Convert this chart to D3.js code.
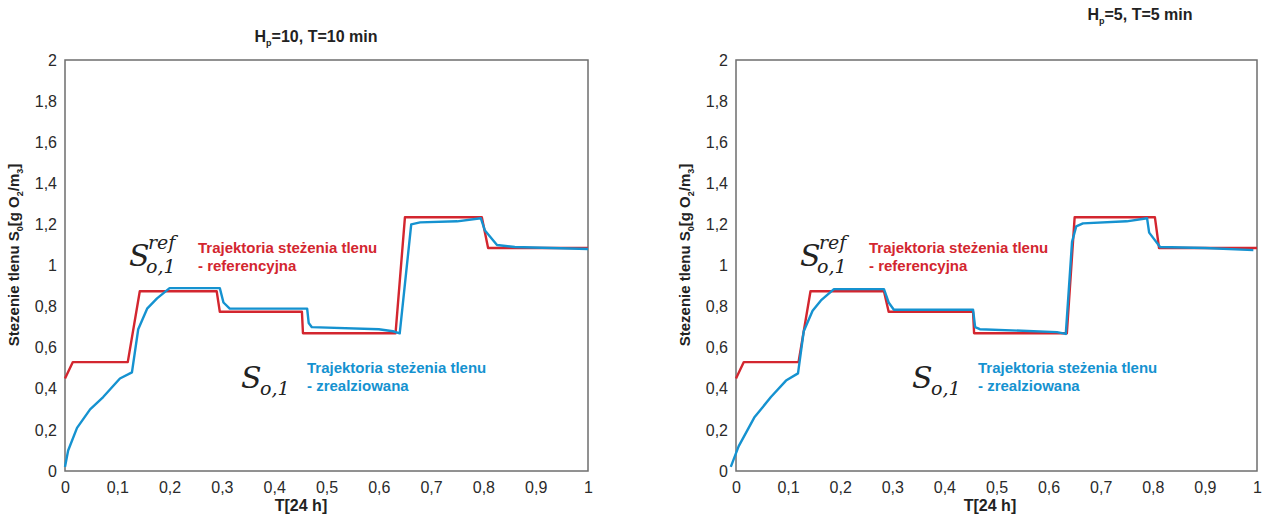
<!DOCTYPE html>
<html><head><meta charset="utf-8">
<script src="https://cdn.jsdelivr.net/npm/d3@7"></script>
<style>
body{margin:0;background:#fff;}
svg{display:block;font-family:"Liberation Sans",Arial,sans-serif;}
</style></head>
<body><svg id="chart" width="1264" height="516"></svg>
<script>
// ---- data ----
const xTicks = [0,0.1,0.2,0.3,0.4,0.5,0.6,0.7,0.8,0.9,1];
const xTickLabels = ["0","0,1","0,2","0,3","0,4","0,5","0,6","0,7","0,8","0,9","1"];
const yTicks = [0,0.2,0.4,0.6,0.8,1,1.2,1.4,1.6,1.8,2];
const yTickLabels = ["0","0,2","0,4","0,6","0,8","1","1,2","1,4","1,6","1,8","2"];

const leftTitle = ["H","p","=10, T=10 min"];
const rightTitle = ["H","p","=5, T=5 min"];

// Left panel (Hp=10, T=10 min)
const leftRefT = [0,0.015,0.12,0.143,0.29,0.296,0.453,0.455,0.632,0.65,0.797,0.809,1.0];
const leftRefV = [0.45,0.53,0.53,0.875,0.875,0.775,0.775,0.67,0.67,1.235,1.235,1.085,1.085];
const leftRealT = [0,0.006,0.023,0.048,0.073,0.105,0.128,0.14,0.157,0.176,0.2,0.296,0.303,0.315,0.463,0.466,0.472,0.6,0.627,0.64,0.662,0.679,0.75,0.795,0.803,0.826,0.86,1.0];
const leftRealV = [0.02,0.10,0.21,0.30,0.36,0.45,0.48,0.69,0.79,0.84,0.89,0.89,0.82,0.79,0.79,0.72,0.70,0.69,0.68,0.67,1.2,1.21,1.215,1.23,1.17,1.10,1.09,1.08];

// Right panel (Hp=5, T=5 min)
const rightRefT = [0,0.015,0.12,0.143,0.284,0.293,0.455,0.457,0.635,0.65,0.804,0.812,1.0];
const rightRefV = [0.45,0.53,0.53,0.875,0.875,0.775,0.775,0.67,0.67,1.235,1.235,1.085,1.085];
const rightRealT = [-0.01,0.005,0.035,0.067,0.096,0.119,0.13,0.147,0.163,0.188,0.284,0.293,0.303,0.455,0.459,0.468,0.616,0.633,0.645,0.653,0.666,0.75,0.789,0.793,0.814,0.9,0.993];
const rightRealV = [0.02,0.12,0.26,0.36,0.44,0.475,0.68,0.78,0.83,0.885,0.885,0.82,0.785,0.785,0.70,0.69,0.676,0.667,1.115,1.19,1.205,1.215,1.23,1.16,1.09,1.085,1.075];

const refLegend = ["Trajektoria steżenia tlenu","- referencyjna"];
const realLegend = ["Trajektoria steżenia tlenu","- zrealziowana"];

const RED = "#d3262f", BLUE = "#1592d0";
const svg = d3.select("#chart");

function panel(o){
  const x = d3.scaleLinear().domain([0,1]).range([o.x0,o.x1]);
  const y = d3.scaleLinear().domain([0,2]).range([471,60]);
  const g = svg.append("g");

  // frame
  g.append("rect").attr("x",o.x0).attr("y",y(2)).attr("width",o.x1-o.x0).attr("height",y(0)-y(2))
   .attr("fill","none").attr("stroke","#6e6e6e").attr("stroke-width",1.5);

  // axes via d3 axes (ticks hidden, labels only)
  const xa = d3.axisBottom(x).tickValues(xTicks).tickSize(0).tickPadding(11)
     .tickFormat((d,i)=>xTickLabels[i]);
  const gx = g.append("g").attr("transform",`translate(0,${y(0)})`).call(xa);
  gx.select(".domain").remove();
  gx.selectAll("text").attr("font-size",16).attr("fill","#2a2a2a").attr("font-family","Liberation Sans, Arial, sans-serif").attr("dy","0.71em");

  const ya = d3.axisLeft(y).tickValues(yTicks).tickSize(0).tickPadding(8)
     .tickFormat((d,i)=>yTickLabels[i]);
  const gy = g.append("g").attr("transform",`translate(${o.x0},0)`).call(ya);
  gy.select(".domain").remove();
  gy.selectAll("text").attr("font-size",16).attr("fill","#2a2a2a").attr("font-family","Liberation Sans, Arial, sans-serif");

  // title
  const t = g.append("text").attr("x",o.titleX).attr("y",o.titleY).attr("text-anchor","middle")
    .attr("font-size",16).attr("font-weight","bold").attr("fill","#222");
  t.append("tspan").text(o.title[0]);
  t.append("tspan").text(o.title[1]).attr("font-size",9).attr("dy",4);
  t.append("tspan").text(o.title[2]).attr("dy",-4);

  // y label
  const yl = g.append("text").attr("transform",`translate(${o.x0-46},255) rotate(-90)`)
    .attr("text-anchor","middle").attr("font-size",15).attr("font-weight","bold").attr("fill","#222");
  yl.append("tspan").text("Stezenie tlenu S");
  yl.append("tspan").text("0").attr("font-size",9).attr("dy",4);
  yl.append("tspan").text("[g O").attr("dy",-4);
  yl.append("tspan").text("2").attr("font-size",9).attr("dy",4);
  yl.append("tspan").text("/m").attr("dy",-4);
  yl.append("tspan").text("3").attr("font-size",9).attr("dy",4);
  yl.append("tspan").text("]").attr("dy",-4);

  // x label
  g.append("text").attr("x",o.xTitleX).attr("y",511).attr("text-anchor","middle")
    .attr("font-size",16).attr("font-weight","bold").attr("fill","#222").text("T[24 h]");

  // lines
  const line = d3.line().x(d=>x(d[0])).y(d=>y(d[1]));
  const ref = o.refT.map((tt,i)=>[tt,o.refV[i]]);
  const real = o.realT.map((tt,i)=>[tt,o.realV[i]]);
  g.append("path").datum(ref).attr("d",line).attr("fill","none").attr("stroke",RED).attr("stroke-width",2.4).attr("stroke-linejoin","round");
  g.append("path").datum(real).attr("d",line).attr("fill","none").attr("stroke",BLUE).attr("stroke-width",2.4).attr("stroke-linejoin","round");

  // annotations
  const ax = o.x0;
  const m1 = g.append("g").attr("font-family","DejaVu Serif, Liberation Serif, serif").attr("font-style","italic").attr("fill","#222");
  m1.append("text").attr("x",ax+64).attr("y",266).attr("font-size",30).text("S");
  m1.append("text").attr("x",ax+83).attr("y",249).attr("font-size",19).text("ref");
  m1.append("text").attr("x",ax+81).attr("y",273).attr("font-size",19).text("o,1");

  const m2 = g.append("g").attr("font-family","DejaVu Serif, Liberation Serif, serif").attr("font-style","italic").attr("fill","#222");
  m2.append("text").attr("x",ax+176).attr("y",388).attr("font-size",30).text("S");
  m2.append("text").attr("x",ax+195).attr("y",395).attr("font-size",19).text("o,1");

  const lr = g.append("text").attr("font-size",15).attr("font-weight","bold").attr("fill",RED);
  lr.append("tspan").attr("x",ax+133).attr("y",253).text(refLegend[0]);
  lr.append("tspan").attr("x",ax+133).attr("y",271).text(refLegend[1]);
  const lb = g.append("text").attr("font-size",15).attr("font-weight","bold").attr("fill",BLUE);
  lb.append("tspan").attr("x",ax+242).attr("y",373).text(realLegend[0]);
  lb.append("tspan").attr("x",ax+242).attr("y",391).text(realLegend[1]);
}

panel({x0:65,x1:588,title:leftTitle,titleX:316,titleY:42,xTitleX:301,
  refT:leftRefT,refV:leftRefV,realT:leftRealT,realV:leftRealV});
panel({x0:736,x1:1257,title:rightTitle,titleX:1140,titleY:20,xTitleX:990,
  refT:rightRefT,refV:rightRefV,realT:rightRealT,realV:rightRealV});
</script></body></html>
